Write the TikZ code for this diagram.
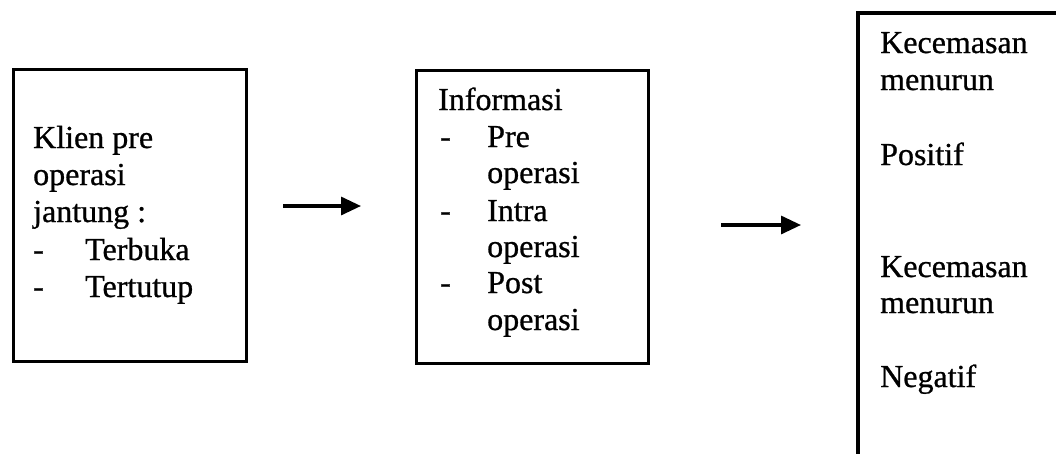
\documentclass[tikz,border=0pt]{standalone}
\usepackage{fontspec}
\setmainfont{Liberation Serif}[FakeBold=0.8]
\usetikzlibrary{arrows.meta}
\begin{document}
\begin{tikzpicture}[x=1pt,y=-1pt,
  box/.style={draw=black,line width=3.2pt,inner sep=0pt,anchor=north west},
  txt/.style={anchor=base west,inner sep=0pt,font=\fontsize{32}{37}\selectfont},
  arr/.style={line width=3.2pt,-{Triangle[length=20pt,width=18pt]}}]
\useasboundingbox (0,0) rectangle (1056,453);
% first box: the patient group
\node[box,minimum width=233pt,minimum height=292pt] (klien) at (12,68) {};
\node[txt] (k1) at (33,148) {Klien pre};
\node[txt] (k2) at (33,185) {operasi};
\node[txt] (k3) at (33,222) {jantung :};
\node[txt] (k4) at (33,260) {-};
\node[txt] (k5) at (85,260) {Terbuka};
\node[txt] (k6) at (33,297) {-};
\node[txt] (k7) at (85,297) {Tertutup};
% second box: information given
\node[box,minimum width=232pt,minimum height=293pt] (info) at (415,69) {};
\node[txt] (i1) at (438,110) {Informasi};
\node[txt] (i2) at (440,147) {-};
\node[txt] (i3) at (487,147) {Pre};
\node[txt] (i4) at (487,183) {operasi};
\node[txt] (i5) at (440,221) {-};
\node[txt] (i6) at (487,221) {Intra};
\node[txt] (i7) at (487,257) {operasi};
\node[txt] (i8) at (440,293) {-};
\node[txt] (i9) at (487,293) {Post};
\node[txt] (i10) at (487,330) {operasi};
% third box: outcome, open to the right and below
\coordinate (o1) at (858,466);
\coordinate (o2) at (858,13);
\coordinate (o3) at (1070,13);
\draw[line width=3.2pt] (o1) -- (o2) -- (o3);
\node[txt] (r1) at (880,53) {Kecemasan};
\node[txt] (r2) at (880,90) {menurun};
\node[txt] (r3) at (880,165) {Positif};
\node[txt] (r4) at (880,277) {Kecemasan};
\node[txt] (r5) at (880,313) {menurun};
\node[txt] (r6) at (880,387) {Negatif};
% connectors
\coordinate (a1s) at (283,206);
\coordinate (a1e) at (361,206);
\coordinate (a2s) at (721,225);
\coordinate (a2e) at (801,225);
\draw[arr] (a1s) -- (a1e);
\draw[arr] (a2s) -- (a2e);
\end{tikzpicture}
\end{document}
